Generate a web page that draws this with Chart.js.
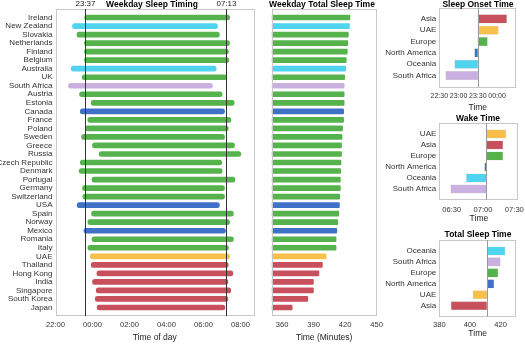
<!DOCTYPE html>
<html>
<head>
<meta charset="utf-8">
<script src="https://cdn.jsdelivr.net/npm/chart.js@4.4.1/dist/chart.umd.min.js"></script>
<style>
  body { margin: 0; background: #fff; }
  #wrap { position: relative; width: 525px; height: 350px; overflow: hidden; font-family: 'Liberation Sans', Arial, sans-serif; }
  .box { position: absolute; }
  .ttl { position: absolute; font-weight: bold; font-size: 8.5px; line-height: 10px; color: #000; transform: translateX(-50%); white-space: nowrap; }
</style>
</head>
<body>
<div id="wrap">
  <div class="box" style="left:0;top:0;width:256px;height:350px"><canvas id="timing"></canvas></div>
  <div class="box" style="left:256px;top:0;width:130px;height:350px"><canvas id="total"></canvas></div>
  <div class="box" style="left:380px;top:0;width:145px;height:114px"><canvas id="onset"></canvas></div>
  <div class="box" style="left:380px;top:114px;width:145px;height:112px"><canvas id="wake"></canvas></div>
  <div class="box" style="left:380px;top:226px;width:145px;height:124px"><canvas id="tst"></canvas></div>
  <div class="ttl" style="left:152px;top:-1px">Weekday Sleep Timing</div>
  <div class="ttl" style="left:322px;top:-1px">Weekday Total Sleep Time</div>
  <div class="ttl" style="left:478px;top:-1px">Sleep Onset Time</div>
  <div class="ttl" style="left:478px;top:113px">Wake Time</div>
  <div class="ttl" style="left:478px;top:229px">Total Sleep Time</div>
</div>
<script>
// ---- data ----
const countries = ['Ireland','New Zealand','Slovakia','Netherlands','Finland','Belgium','Australia','UK','South Africa','Austria','Estonia','Canada','France','Poland','Sweden','Greece','Russia','Czech Republic','Denmark','Portugal','Germany','Switzerland','USA','Spain','Norway','Mexico','Romania','Italy','UAE','Thailand','Hong Kong','India','Singapore','South Korea','Japan'];
const regionOf = ['Europe','Oceania','Europe','Europe','Europe','Europe','Oceania','Europe','South Africa','Europe','Europe','North America','Europe','Europe','Europe','Europe','Europe','Europe','Europe','Europe','Europe','Europe','North America','Europe','Europe','North America','Europe','Europe','UAE','Asia','Asia','Asia','Asia','Asia','Asia'];
// hours relative to midnight
const onsetHours = [-0.42,-1.08,-0.84,-0.43,-0.43,-0.43,-1.15,-0.56,-1.30,-0.70,-0.07,-0.66,-0.25,-0.39,-0.59,0.00,0.36,-0.66,-0.72,-0.03,-0.54,-0.52,-0.83,-0.05,-0.25,-0.46,-0.03,-0.25,-0.12,-0.07,0.24,0.00,0.20,0.15,0.25];
const wakeHours  = [7.42,6.76,6.86,7.41,7.35,7.37,6.69,7.26,6.49,7.01,7.66,7.14,7.48,7.34,7.14,7.68,8.02,6.99,7.01,7.70,7.14,7.14,6.86,7.62,7.41,7.19,7.62,7.35,7.41,7.34,7.59,7.32,7.48,7.32,7.16];
const totalMinutes = [424.5,424,423,422.5,422,421,420.5,419.5,419,419,419,418.5,418.5,417.5,417,416.5,416.5,416,415.7,415.4,415.4,414.8,414.5,413.9,412.9,412,411.3,411.3,401.8,398.3,395,389.7,389.7,384.4,369.5];
const meanOnset = -23/60, meanWake = 7 + 13/60;
const meanLabels = ['23:37','07:13'];
const timingTicks = [-2,0,2,4,6,8];
const timingTickLabels = ['22:00','00:00','02:00','04:00','06:00','08:00'];
const totalTicks = [360,390,420,450];

const onsetRegions = ['Asia','UAE','Europe','North America','Oceania','South Africa'];
const onsetMinutes = [15, 2, -15, -35, -66, -80];   // minutes from midnight
const onsetBase = -30;
const onsetTicks = [-90,-60,-30,0];
const onsetTickLabels = ['22:30','23:00','23:30','00:00'];

const wakeRegions = ['UAE','Asia','Europe','North America','Oceania','South Africa'];
const wakeMinutes = [442, 439, 439, 421.5, 404, 389];  // minutes after midnight
const wakeBase = 423;
const wakeTicks = [390,420,450];
const wakeTickLabels = ['06:30','07:00','07:30'];

const tstRegions = ['Oceania','South Africa','Europe','North America','UAE','Asia'];
const tstMinutes = [422.8, 419.8, 418.2, 415.6, 401.9, 387.7];
const tstBase = 411;
const tstTicks = [380,400,420];

const colors = {'Europe':'#56b24c','Oceania':'#4fd3ef','South Africa':'#c9b0e0','North America':'#3f71c6','UAE':'#f7c04a','Asia':'#c8505c'};

// ---- setup ----
Chart.defaults.font.family = "'Liberation Sans', Arial, sans-serif";
Chart.defaults.font.size = 8;
Chart.defaults.color = '#333';
Chart.defaults.animation = false;

const frame = {
  id: 'frame',
  afterDatasetsDraw(chart, args, o) {
    const {ctx, chartArea: a, scales: {x}} = chart;
    ctx.save();
    ctx.lineWidth = 1;
    ctx.strokeStyle = '#c8c8c8';
    ctx.strokeRect(Math.round(a.left) + 0.5, Math.round(a.top) + 0.5, Math.round(a.right - a.left) - 1, Math.round(a.bottom - a.top) - 1);
    (o.lines || []).forEach(l => {
      const px = Math.round(x.getPixelForValue(l.value)) + 0.5;
      ctx.strokeStyle = l.color;
      ctx.beginPath(); ctx.moveTo(px, a.top); ctx.lineTo(px, a.bottom); ctx.stroke();
      if (l.label) {
        ctx.fillStyle = '#222';
        ctx.font = "8px 'Liberation Sans', Arial, sans-serif";
        ctx.textAlign = 'center'; ctx.textBaseline = 'middle';
        ctx.fillText(l.label, px, a.top - 5);
      }
    });
    ctx.restore();
  }
};

const pad = arr => [null, ...arr, null];
const padLabels = arr => ['', ...arr, ''];
const noPad = s => { s.paddingLeft = 0; s.paddingRight = 0; s.paddingTop = 0; s.paddingBottom = 0; };

function xAxis(min, max, ticks, labels, height, tickPad, titlePadBottom, tickSize = 7.6) {
  return {
    min, max,
    grid: {display: false, drawTicks: false},
    border: {display: false},
    afterBuildTicks: s => { s.ticks = ticks.map(v => ({value: v})); },
    afterFit: s => { s.height = height; noPad(s); },
    ticks: {autoSkip: false, maxRotation: 0, minRotation: 0, padding: tickPad, font: {size: tickSize},
            callback: (v) => labels ? labels[ticks.indexOf(v)] : String(v)},
    title: {display: true, text: '', font: {size: 8.5}, color: '#222', padding: {top: 0, bottom: titlePadBottom}}
  };
}

function yAxis(width, show) {
  return {
    type: 'category', offset: false, display: show,
    grid: {display: false, drawTicks: false},
    border: {display: false},
    afterFit: s => { s.width = width; noPad(s); },
    ticks: {autoSkip: false, padding: 3, font: {size: 8, lineHeight: 1}}
  };
}

// ---- panel 1: timing ----
{
  const x = xAxis(-2, 8 + 44/60, timingTicks, timingTickLabels, 34, 4, 7);
  x.title.text = 'Time of day';
  new Chart(document.getElementById('timing'), {
    type: 'bar',
    data: {
      labels: padLabels(countries),
      datasets: [{
        data: pad(onsetHours.map((o, i) => [o, wakeHours[i]])),
        backgroundColor: pad(regionOf.map(r => colors[r])),
        barThickness: 5, borderRadius: 2.5, borderSkipped: false
      }]
    },
    options: {
      indexAxis: 'y', responsive: true, maintainAspectRatio: false,
      layout: {padding: {top: 9, right: 2, left: 0, bottom: 0}},
      scales: {x, y: yAxis(55.5, true)},
      plugins: {legend: {display: false}, tooltip: {enabled: false},
        frame: {lines: [{value: meanOnset, color: '#333', label: meanLabels[0]}, {value: meanWake, color: '#333', label: meanLabels[1]}]}}
    },
    plugins: [frame]
  });
}

// ---- panel 2: total sleep ----
{
  const x = xAxis(350, 450, totalTicks, null, 34, 4, 7);
  x.title.text = 'Time (Minutes)';
  new Chart(document.getElementById('total'), {
    type: 'bar',
    data: {
      labels: padLabels(countries),
      datasets: [{
        data: pad(totalMinutes.map(v => [350, v])),
        backgroundColor: pad(regionOf.map(r => colors[r])),
        barThickness: 5, borderRadius: 1, borderSkipped: false
      }]
    },
    options: {
      indexAxis: 'y', responsive: true, maintainAspectRatio: false,
      layout: {padding: {top: 9, right: 9.3, left: 15.7, bottom: 0}},
      scales: {x, y: yAxis(0, false)},
      plugins: {legend: {display: false}, tooltip: {enabled: false}, frame: {}}
    },
    plugins: [frame]
  });
}

// ---- right panels ----
function regionPanel(id, regions, values, base, min, max, ticks, labels, padTop, padRight, axisH, tickPad, titlePad, tickSize) {
  const x = xAxis(min, max, ticks, labels, axisH, tickPad, titlePad, tickSize);
  x.title.text = 'Time';
  new Chart(document.getElementById(id), {
    type: 'bar',
    data: {
      labels: padLabels(regions),
      datasets: [{
        data: pad(values.map(v => [base, v])),
        backgroundColor: pad(regions.map(r => colors[r])),
        borderColor: 'rgba(0,0,0,0.15)', borderWidth: 0.5, borderSkipped: false,
        barThickness: 8.5
      }]
    },
    options: {
      indexAxis: 'y', responsive: true, maintainAspectRatio: false,
      layout: {padding: {top: padTop, right: padRight, left: 0, bottom: 0}},
      scales: {x, y: yAxis(59.3, true)},
      plugins: {legend: {display: false}, tooltip: {enabled: false},
        frame: {lines: [{value: base, color: '#9a9a9a'}]}}
    },
    plugins: [frame]
  });
}

regionPanel('onset', onsetRegions, onsetMinutes, onsetBase, -90, 30, onsetTicks, onsetTickLabels, 7.5, 8.7, 27, 5, 1, 7);
regionPanel('wake', wakeRegions, wakeMinutes, wakeBase, 378, 454, wakeTicks, wakeTickLabels, 9, 6.5, 26, 5, 2);
regionPanel('tst', tstRegions, tstMinutes, tstBase, 380, 430, tstTicks, null, 14, 9, 33.3, 4, 11.5);
</script>
</body>
</html>
